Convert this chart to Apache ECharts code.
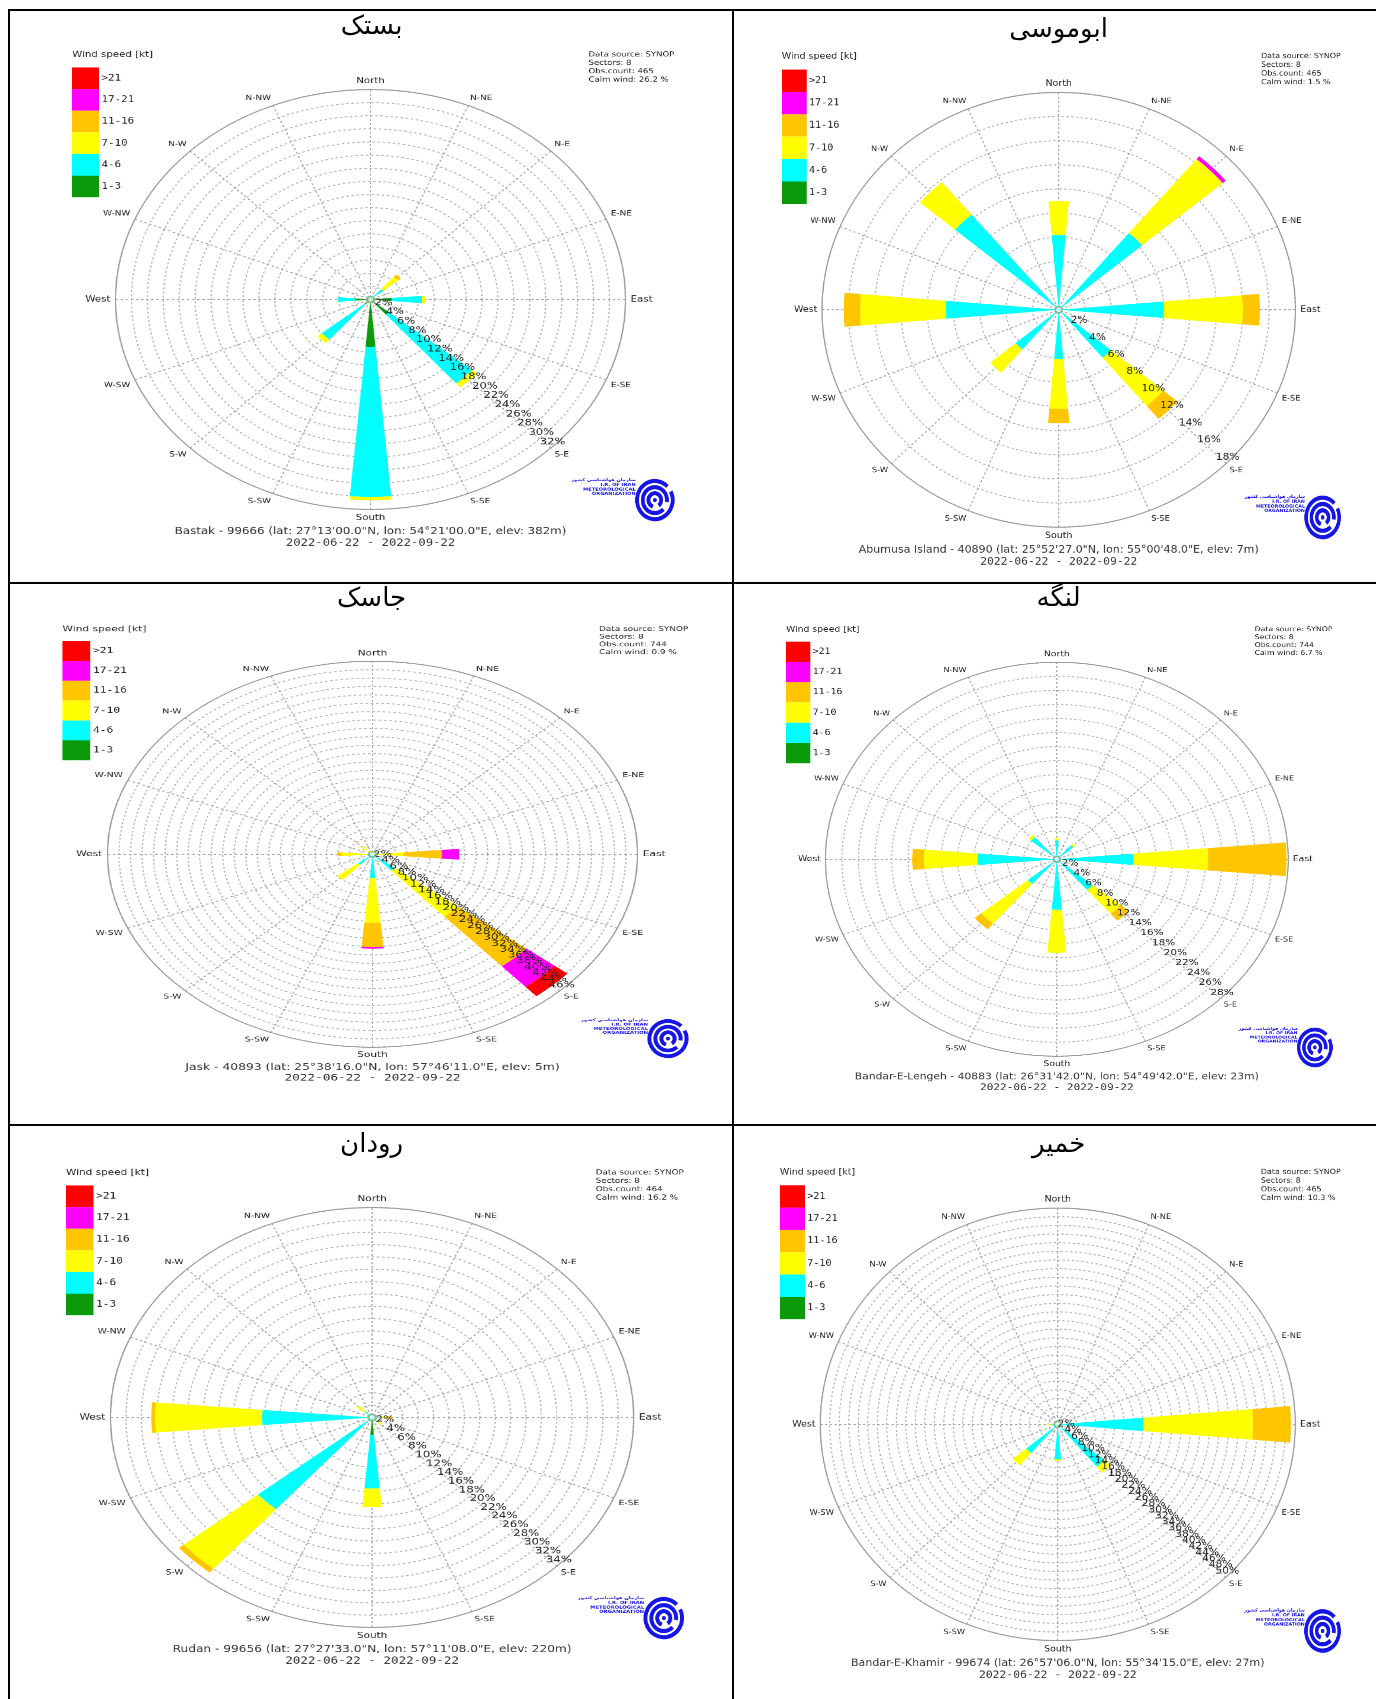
<!DOCTYPE html>
<html><head><meta charset="utf-8">
<script src="https://cdn.jsdelivr.net/npm/echarts/dist/echarts.min.js"></script>
<style>
html,body{margin:0;padding:0;background:#fff;}
#page{position:relative;width:1376px;height:1699px;overflow:hidden;background:#fff;}
#bg{position:absolute;left:0;top:0;width:1376px;height:1699px;}
.panel{position:absolute;width:520px;height:500px;transform-origin:0 0;}
</style></head>
<body><div id="page"><div id="bg"></div></div>
<script>
// ---------------- DATA ----------------
const directions = ['N', 'NE', 'E', 'SE', 'S', 'SW', 'W', 'NW'];
const compassLabels = ['S-E', 'S-SE', 'South', 'S-SW', 'S-W', 'W-SW', 'West', 'W-NW',
  'N-W', 'N-NW', 'North', 'N-NE', 'N-E', 'E-NE', 'East', 'E-SE'];
const speedClasses = ['1-3', '4-6', '7-10', '11-16', '17-21', '>21'];
const legendOrder = ['>21', '17-21', '11-16', '7-10', '4-6', '1-3'];
const stationTitles = ['بستک', 'ابوموسی', 'جاسک', 'لنگه', 'رودان', 'خمیر'];
const stationLines = [
  'Bastak - 99666 (lat: 27°13\'00.0"N, lon: 54°21\'00.0"E, elev: 382m)',
  'Abumusa Island - 40890 (lat: 25°52\'27.0"N, lon: 55°00\'48.0"E, elev: 7m)',
  'Jask - 40893 (lat: 25°38\'16.0"N, lon: 57°46\'11.0"E, elev: 5m)',
  'Bandar-E-Lengeh - 40883 (lat: 26°31\'42.0"N, lon: 54°49\'42.0"E, elev: 23m)',
  'Rudan - 99656 (lat: 27°27\'33.0"N, lon: 57°11\'08.0"E, elev: 220m)',
  'Bandar-E-Khamir - 99674 (lat: 26°57\'06.0"N, lon: 55°34\'15.0"E, elev: 27m)'
];
const periodLabel = '2022-06-22 - 2022-09-22';
const obsCounts = [465, 465, 744, 744, 464, 465];
const calmWinds = [26.2, 1.5, 0.9, 6.7, 16.2, 10.3];
const ringMax = [32, 18, 46, 28, 34, 50];
const ringStep = 2;

// frequency (%) per speed class (rows: 1-3, 4-6, 7-10, 11-16, 17-21, >21), columns N..NW
const bastak = [
  [0.3, 0.3, 2.7, 3.0, 7.2, 1.0, 1.9, 0.5],
  [0.3, 1.8, 3.8, 13.7, 22.9, 7.0, 2.2, 0.2],
  [0, 2.4, 0.4, 0.8, 0.5, 0.7, 0, 0],
  [0, 0.5, 0, 0, 0, 0, 0, 0],
  [0, 0, 0, 0, 0, 0, 0, 0],
  [0, 0, 0, 0, 0, 0, 0, 0]
];
const abumusa = [
  [0, 0, 0, 0, 0, 0, 0, 0],
  [6.2, 8.3, 8.0, 5.2, 4.1, 4.3, 8.6, 10.3],
  [2.8, 8.0, 6.0, 5.2, 4.1, 2.5, 6.5, 3.5],
  [0, 0, 1.3, 1.4, 1.2, 0, 1.25, 0],
  [0, 0.3, 0, 0, 0, 0, 0, 0],
  [0, 0, 0, 0, 0, 0, 0, 0]
];
const jask = [
  [0, 0, 0, 0, 0, 0, 0, 0],
  [0.3, 0.2, 0.3, 5.1, 5.7, 3.3, 0.8, 0.5],
  [0.5, 0.2, 5.1, 14.3, 10.6, 4.7, 4.6, 2.0],
  [0, 0, 6.7, 15.5, 5.8, 0, 0.7, 0],
  [0, 0, 3.0, 6.4, 0.4, 0, 0, 0],
  [0, 0, 0, 2.9, 0, 0, 0, 0]
];
const lengeh = [
  [0, 0, 0, 0, 0, 0, 0, 0],
  [2.7, 2.6, 9.25, 5.7, 7.2, 4.6, 9.6, 4.1],
  [0.3, 0.3, 9.05, 4.4, 6.1, 7.4, 6.5, 0.4],
  [0, 0, 9.5, 1.3, 0, 1.0, 1.4, 0],
  [0, 0, 0, 0, 0, 0, 0, 0],
  [0, 0, 0, 0, 0, 0, 0, 0]
];
const rudan = [
  [0, 0, 0, 0, 2.8, 0, 0, 0],
  [0.2, 0.3, 1.0, 0.8, 8.7, 19.4, 14.3, 1.2],
  [0, 0, 1.0, 0.8, 3.0, 12.6, 13.9, 1.3],
  [0, 0, 0.6, 0, 0, 0.8, 0.5, 0],
  [0, 0, 0, 0, 0, 0, 0, 0],
  [0, 0, 0, 0, 0, 0, 0, 0]
];
const khamir = [
  [0, 0, 0, 0, 0, 0, 0, 0],
  [0.3, 0, 18.0, 12.8, 8.1, 8.7, 1.5, 0.3],
  [0, 0, 23.1, 1.8, 0.4, 3.7, 0.8, 0],
  [0, 0, 8.0, 0, 0, 0, 0, 0],
  [0, 0, 0, 0, 0, 0, 0, 0],
  [0, 0, 0, 0, 0, 0, 0, 0]
];
const stationData = [bastak, abumusa, jask, lengeh, rudan, khamir];

// ---------------- LAYOUT / STYLE ----------------
const speedColors = ['#0a9a0a', '#00ffff', '#ffff00', '#ffc600', '#ff00ff', '#ff0000'];
// rose centre (x,y) and radii (horizontal, vertical) on the page
const panelGeom = [
  [370.6, 299.5, 255, 210],
  [1058.4, 309.7, 236.7, 217.4],
  [372, 854, 265, 193],
  [1057, 859.5, 231.4, 197],
  [371.8, 1417, 261.6, 210],
  [1057.6, 1424.8, 237.5, 216.3]
];
const titlePos = [[371.6, 27], [1058.6, 30], [371.6, 599], [1058.6, 599], [371.6, 1145], [1058.6, 1145]];

const CX = 260, CY = 250, R = 200;
const cardinal = {North: 1, East: 1, South: 1, West: 1};
const SECTOR = 360 / compassLabels.length;

function compassFormatter(v) {
  const idx = Math.round(v / SECTOR);
  if (idx >= compassLabels.length) return '';
  const name = compassLabels[idx];
  return cardinal[name] ? '{big|' + name + '}' : '{small|' + name + '}';
}
function ringFormatter(v) {
  const q = v / ringStep;
  return (v > 0 && Math.abs(q - Math.round(q)) < 1e-6) ? Math.round(v) + '%' : '';
}

function buildOption(i) {
  const data = stationData[i];
  const M = ringMax[i];
  const logo = {
    type: 'group', x: 483, y: 441, scaleY: 1.3, silent: true,
    children: [
      {type: 'arc', shape: {cx: 0, cy: 0, r: 14, startAngle: -0.15 * Math.PI, endAngle: 1.75 * Math.PI}, style: {stroke: '#1515e6', lineWidth: 3, fill: null}},
      {type: 'arc', shape: {cx: 0, cy: 0, r: 9.5, startAngle: 0.25 * Math.PI, endAngle: 2.05 * Math.PI}, style: {stroke: '#1515e6', lineWidth: 3, fill: null}},
      {type: 'arc', shape: {cx: 0, cy: 0, r: 5, startAngle: 0.6 * Math.PI, endAngle: 2.3 * Math.PI}, style: {stroke: '#1515e6', lineWidth: 3, fill: null}},
      {type: 'circle', shape: {cx: 0, cy: 0, r: 1.5}, style: {fill: '#1515e6'}}
    ]
  };
  const logoText = {
    type: 'text', x: 468, y: 420, silent: true,
    style: {text: 'سازمان هواشناسی کشور\nI.R. OF IRAN\nMETEOROLOGICAL\nORGANIZATION', align: 'right', verticalAlign: 'top',
      font: 'bold 4px "DejaVu Sans"', lineHeight: 4.3, fill: '#1515e6'}
  };
  return {
    animation: false,
    polar: [
      {center: [CX, CY], radius: R},
      {center: [CX, CY], radius: R},
      {center: [CX, CY], radius: R}
    ],
    angleAxis: [
      {polarIndex: 0, type: 'value', min: 0, max: 360, interval: SECTOR, startAngle: -45, clockwise: true,
        axisLine: {show: true, lineStyle: {color: '#9a9a9a', width: 1}},
        axisTick: {show: false},
        axisLabel: {margin: 4, color: '#222', formatter: compassFormatter,
          rich: {big: {fontSize: 8, fontFamily: 'DejaVu Sans', color: '#222'},
                 small: {fontSize: 7, fontFamily: 'DejaVu Sans', color: '#222'}}},
        splitLine: {show: true, lineStyle: {color: '#a8a8a8', type: [2, 2], width: 1}}},
      {polarIndex: 1, type: 'category', data: directions, startAngle: 112.5, clockwise: true, show: false},
      {polarIndex: 2, type: 'value', min: 0, max: 360, startAngle: -45, show: false}
    ],
    radiusAxis: [
      {polarIndex: 0, type: 'value', min: 0, max: M, interval: ringStep,
        axisLine: {show: false}, axisTick: {show: false}, axisLabel: {show: false},
        splitLine: {show: true, lineStyle: {color: '#b4b4b4', type: [2, 2], width: 1}}},
      {polarIndex: 1, type: 'value', min: 0, max: M, show: false},
      {polarIndex: 2, type: 'value', min: 0, max: M + 0.01, interval: ringStep, z: 10,
        axisLine: {show: false}, axisTick: {show: false}, splitLine: {show: false},
        axisLabel: {margin: 2, fontSize: 9, fontFamily: 'DejaVu Sans', color: '#222',
          align: 'center', verticalAlign: 'bottom', hideOverlap: false,
          formatter: ringFormatter}}
    ],
    legend: {
      data: legendOrder, orient: 'vertical', left: 26, top: 29, itemWidth: 21, itemHeight: 20.6, itemGap: 0,
      icon: 'rect', selectedMode: false, padding: 0,
      textStyle: {fontFamily: 'DejaVu Sans Mono', fontSize: 8.5, color: '#222', padding: [0, 0, 0, -3]}
    },
    graphic: [
      {type: 'text', x: 26, y: 17, silent: true,
        style: {text: 'Wind speed [kt]', font: '8px "DejaVu Sans"', fill: '#222', verticalAlign: 'middle'}},
      {type: 'text', x: 431, y: 13, silent: true,
        style: {text: 'Data source: SYNOP\nSectors: 8\nObs.count: ' + obsCounts[i] + '\nCalm wind: ' + calmWinds[i] + ' %',
          font: '6.7px "DejaVu Sans"', lineHeight: 8, fill: '#222', verticalAlign: 'top'}},
      {type: 'text', x: CX, y: 471, silent: true,
        style: {text: stationLines[i], font: '9.3px "DejaVu Sans"', fill: '#333', align: 'center', verticalAlign: 'middle'}},
      {type: 'text', x: CX, y: 482, silent: true,
        style: {text: periodLabel, font: '9.6px "DejaVu Sans Mono"', fill: '#333', align: 'center', verticalAlign: 'middle'}},
      {type: 'circle', shape: {cx: CX, cy: CY, r: 3}, silent: true, z: 20,
        style: {fill: null, stroke: '#88bb88', lineWidth: 1}},
      logo, logoText
    ],
    series: speedClasses.map((c, k) => ({
      type: 'bar', name: c, coordinateSystem: 'polar', polarIndex: 1, stack: 'wind',
      barWidth: '22%', itemStyle: {color: speedColors[k]}, data: data[k], silent: true
    }))
  };
}

// background: table lines and Persian titles
const bgChart = echarts.init(document.getElementById('bg'), null, {renderer: 'canvas'});
const ln = (x1, y1, x2, y2) => ({type: 'line', silent: true, shape: {x1, y1, x2, y2}, style: {stroke: '#000', lineWidth: 2}});
bgChart.setOption({
  animation: false,
  graphic: [
    ln(9, 10, 9, 1699), ln(8, 10, 1376, 10), ln(733, 10, 733, 1699),
    ln(8, 583, 1376, 583), ln(8, 1125, 1376, 1125)
  ].concat(stationTitles.map((t, i) => ({
    type: 'text', x: titlePos[i][0], y: titlePos[i][1], silent: true,
    style: {text: t, font: '26px "DejaVu Sans"', fill: '#000', align: 'center', verticalAlign: 'middle'}
  })))
});

const page = document.getElementById('page');
panelGeom.forEach((g, i) => {
  const kx = g[2] / R, ky = g[3] / R;
  const d = document.createElement('div');
  d.className = 'panel';
  d.style.left = (g[0] - CX * kx) + 'px';
  d.style.top = (g[1] - CY * ky) + 'px';
  d.style.transform = 'scale(' + kx + ',' + ky + ')';
  page.appendChild(d);
  const ch = echarts.init(d, null, {renderer: 'canvas', devicePixelRatio: 2});
  ch.setOption(buildOption(i));
});
</script></body></html>
